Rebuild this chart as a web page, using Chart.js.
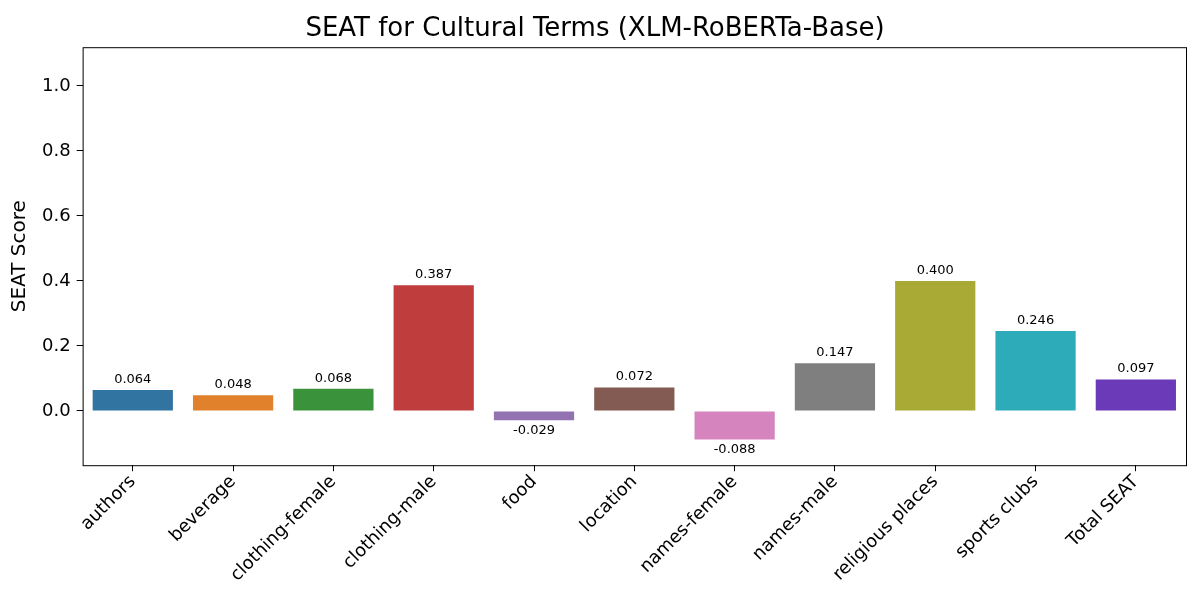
<!DOCTYPE html>
<html>
<head>
<meta charset="utf-8">
<script src="https://cdn.jsdelivr.net/npm/chart.js@4"></script>
<style>
  body { margin: 0; background: #fff; }
  #wrap { width: 1200px; height: 600px; }
</style>
</head>
<body>
<div id="wrap"><canvas id="seatChart"></canvas></div>
<script>
// data
const categories = ["authors", "beverage", "clothing-female", "clothing-male", "food", "location",
    "names-female", "names-male", "religious places", "sports clubs", "Total SEAT"];
const seatScores = [0.064, 0.048, 0.068, 0.387, -0.029, 0.072, -0.088, 0.147, 0.400, 0.246, 0.097];
const barColors = ["#3274a1", "#e1812c", "#3a923a", "#c03d3e", "#9372b2", "#845b53",
    "#d684bd", "#7f7f7f", "#a9aa35", "#2eabb8", "#6a3ab8"];
const yTicks = [0.0, 0.2, 0.4, 0.6, 0.8, 1.0];

const FONT = "'DejaVu Sans', sans-serif";

// frame around the plot area, like matplotlib spines
const framePlugin = {
    id: "frame",
    afterDraw(chart) {
        const { ctx, chartArea: a } = chart;
        ctx.save();
        ctx.strokeStyle = "#000";
        ctx.lineWidth = 1;
        ctx.strokeRect(a.left + 0.5, a.top + 0.5, a.right - a.left, a.bottom - a.top);
        ctx.restore();
    }
};

// value labels above / below each bar
const valueLabels = {
    id: "valueLabels",
    afterDatasetsDraw(chart) {
        const { ctx } = chart;
        const meta = chart.getDatasetMeta(0);
        ctx.save();
        ctx.font = "13px " + FONT;
        ctx.fillStyle = "#000";
        ctx.textAlign = "center";
        meta.data.forEach((bar, i) => {
            const v = seatScores[i];
            if (v >= 0) {
                ctx.textBaseline = "bottom";
                ctx.fillText(v.toFixed(3), bar.x, bar.y - 4);
            } else {
                ctx.textBaseline = "top";
                ctx.fillText(v.toFixed(3), bar.x, bar.y + 4);
            }
        });
        ctx.restore();
    }
};

new Chart(document.getElementById("seatChart"), {
    type: "bar",
    data: {
        labels: categories,
        datasets: [{
            data: seatScores,
            backgroundColor: barColors,
            categoryPercentage: 1.0,
            barPercentage: 0.8
        }]
    },
    options: {
        responsive: true,
        maintainAspectRatio: false,
        animation: false,
        layout: { padding: { left: 4, right: 14, top: 0, bottom: 14 } },
        plugins: {
            legend: { display: false },
            tooltip: { enabled: false },
            title: {
                display: true,
                text: "SEAT for Cultural Terms (XLM-RoBERTa-Base)",
                color: "#000",
                font: { family: FONT, size: 26, weight: "normal" },
                padding: { top: 14, bottom: 2 }
            }
        },
        scales: {
            x: {
                grid: { display: true, drawOnChartArea: false, offset: false, tickLength: 6, color: "#000" },
                border: { display: false },
                ticks: {
                    color: "#000",
                    font: { family: FONT, size: 18 },
                    maxRotation: 45,
                    minRotation: 45,
                    padding: 0
                }
            },
            y: {
                min: -0.167,
                max: 1.119,
                afterBuildTicks(axis) {
                    axis.ticks = yTicks.map(v => ({ value: v }));
                },
                grid: { display: true, drawOnChartArea: false, tickLength: 6, color: "#000" },
                border: { display: false },
                ticks: {
                    color: "#000",
                    font: { family: FONT, size: 18 },
                    callback: v => v.toFixed(1),
                    padding: 6
                },
                title: {
                    display: true,
                    text: "SEAT Score",
                    color: "#000",
                    font: { family: FONT, size: 20 }
                }
            }
        }
    },
    plugins: [framePlugin, valueLabels]
});
</script>
</body>
</html>
